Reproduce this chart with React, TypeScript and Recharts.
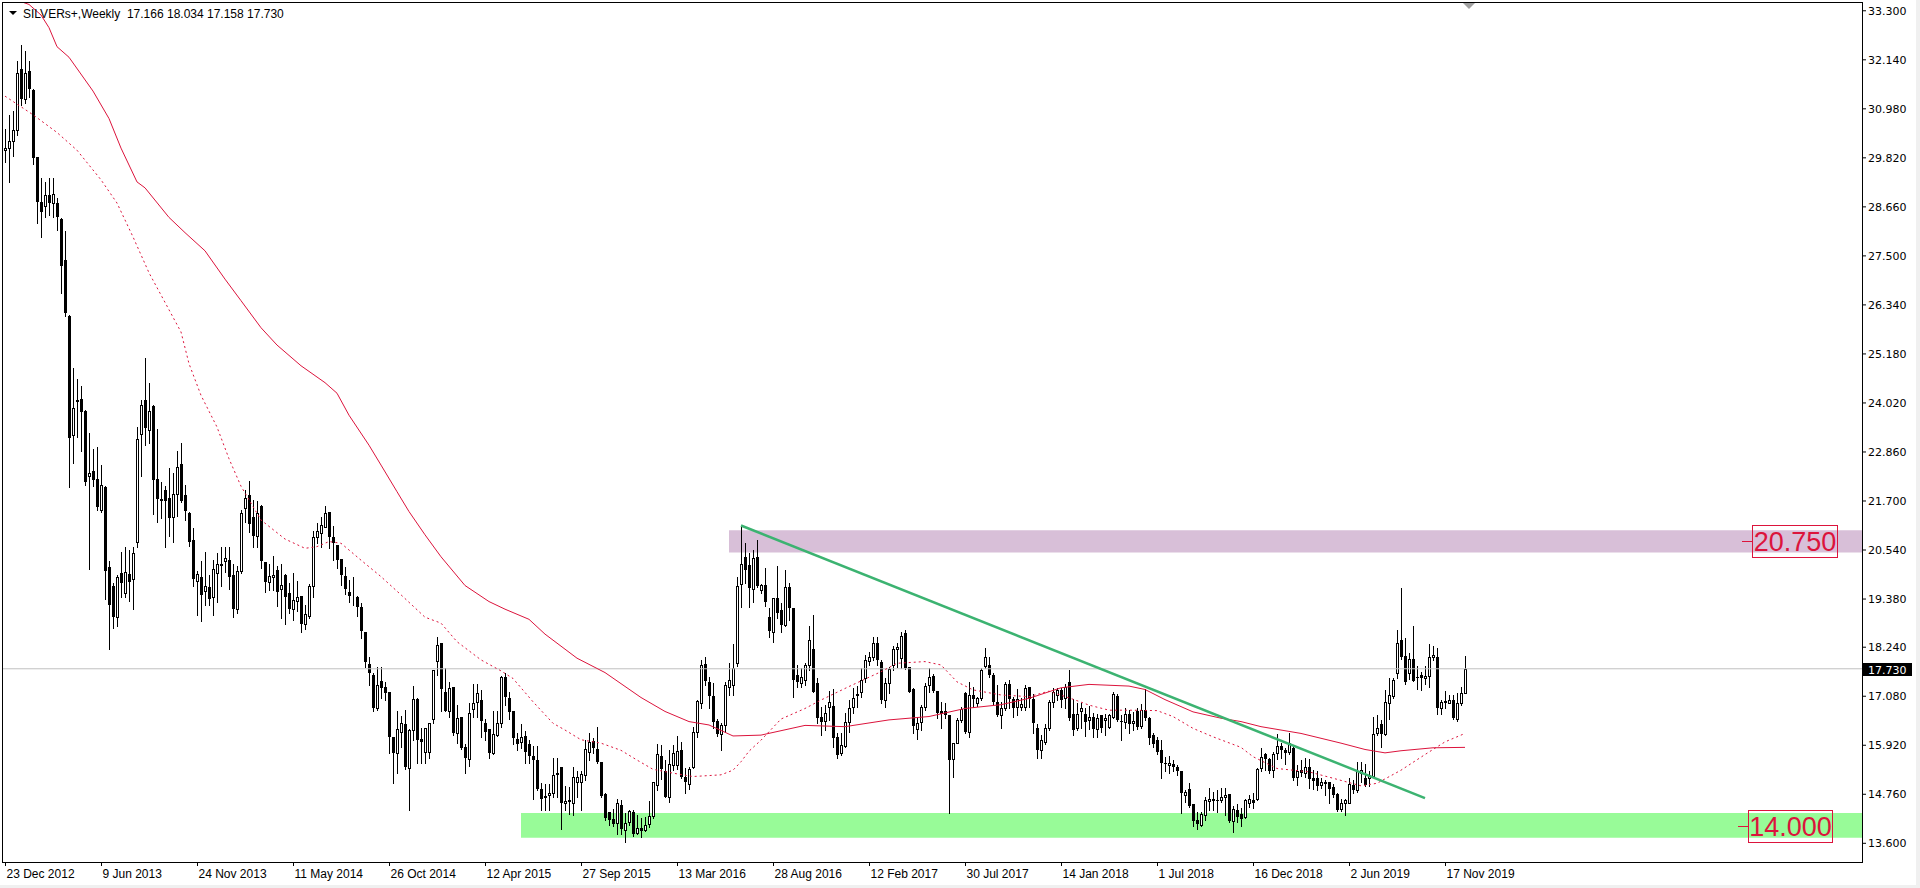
import {
  ComposedChart, Bar, Line, XAxis, YAxis,
  ReferenceLine, ReferenceArea, ReferenceDot,
} from "recharts";

const dateWeeks = [0, 24, 48, 72, 96, 120, 144, 168, 192, 216, 240, 264, 288, 312, 336, 360];
const dateLabels = [
  "23 Dec 2012", "9 Jun 2013", "24 Nov 2013", "11 May 2014", "26 Oct 2014", "12 Apr 2015",
  "27 Sep 2015", "13 Mar 2016", "28 Aug 2016", "12 Feb 2017", "30 Jul 2017", "14 Jan 2018",
  "1 Jul 2018", "16 Dec 2018", "2 Jun 2019", "17 Nov 2019",
];
const priceTicks = [
  13.6, 14.76, 15.92, 17.08, 18.24, 19.38, 20.54, 21.7, 22.86,
  24.02, 25.18, 26.34, 27.5, 28.66, 29.82, 30.98, 32.14, 33.3,
];

// weekly bars: open, high, low, close
const candles: number[][] = [
  [30.0, 30.51, 29.72, 30.05], [30.05, 30.84, 29.25, 30.23], [30.23, 30.93, 29.86, 30.47], [30.47, 32.1, 30.37, 31.82],
  [31.92, 32.48, 31.08, 31.22], [31.22, 32.34, 31.12, 31.82], [31.87, 32.1, 31.26, 31.45], [31.42, 31.45, 29.67, 29.81],
  [29.83, 29.85, 28.27, 28.77], [28.77, 29.34, 27.94, 28.55], [28.67, 29.25, 28.43, 28.94], [28.95, 29.34, 28.46, 28.74],
  [28.74, 29.34, 28.41, 28.97], [28.74, 28.88, 28.11, 28.43], [28.38, 28.4, 26.63, 27.27], [27.4, 28.08, 26.07, 26.14],
  [26.07, 26.1, 22.03, 23.19], [23.26, 24.85, 22.6, 23.9], [24.06, 24.59, 23.22, 24.09], [24.12, 24.43, 22.89, 23.8],
  [23.82, 23.85, 22.09, 22.14], [22.28, 23.31, 20.08, 22.37], [22.42, 22.94, 22.05, 22.19], [22.23, 22.98, 21.48, 21.56],
  [21.48, 22.56, 21.45, 22.07], [22.02, 22.05, 19.38, 20.05], [20.13, 20.27, 18.2, 19.24], [19.7, 19.75, 18.7, 18.95],
  [18.96, 19.95, 18.75, 19.89], [19.99, 20.5, 19.42, 19.75], [19.52, 20.6, 19.42, 20.02], [19.97, 20.55, 19.33, 19.78],
  [19.85, 20.6, 19.14, 20.47], [20.72, 23.45, 20.62, 23.17], [23.28, 24.1, 22.28, 23.98], [24.1, 25.09, 23.03, 23.43],
  [23.38, 24.5, 23.08, 23.82], [23.95, 23.97, 21.39, 22.19], [22.23, 23.4, 21.2, 21.75], [21.75, 22.14, 21.3, 21.71],
  [21.95, 22.05, 20.6, 21.69], [21.77, 22.47, 20.88, 21.3], [21.32, 22.37, 20.74, 21.86], [21.86, 22.89, 21.35, 22.51],
  [22.58, 23.08, 21.67, 21.69], [21.84, 22.09, 21.25, 21.47], [21.41, 21.44, 20.64, 20.74], [20.78, 21.06, 19.7, 19.85],
  [19.8, 20.04, 19.0, 19.97], [19.89, 20.27, 18.85, 19.47], [19.56, 20.5, 19.24, 19.68], [19.66, 19.94, 19.24, 19.38],
  [19.42, 20.31, 19.0, 20.08], [20.0, 20.46, 19.3, 20.2], [20.2, 20.6, 19.7, 20.15], [20.28, 20.6, 20.03, 20.35],
  [20.31, 20.6, 19.61, 19.89], [19.94, 20.22, 18.96, 19.14], [19.14, 20.17, 19.05, 20.05], [20.04, 21.48, 19.99, 21.41],
  // 2014
  [21.53, 21.97, 21.2, 21.78], [21.84, 22.17, 20.97, 21.15], [21.31, 21.72, 20.62, 20.86], [20.86, 21.69, 20.62, 21.42],
  [21.58, 21.6, 20.11, 20.29], [20.26, 20.26, 19.55, 19.79], [19.79, 20.22, 19.59, 19.92], [19.89, 20.4, 19.6, 19.95],
  [20.07, 20.15, 19.22, 19.55], [19.61, 20.22, 18.92, 19.71], [19.96, 19.98, 18.8, 19.44], [19.53, 19.75, 19.04, 19.14],
  [19.14, 19.99, 18.88, 19.36], [19.34, 19.81, 19.1, 19.44], [19.46, 19.46, 18.61, 18.8], [18.8, 19.23, 18.66, 19.02],
  [18.99, 19.74, 18.92, 19.69], [19.69, 21.0, 19.44, 20.84], [20.84, 21.19, 20.7, 21.0], [20.95, 21.31, 20.62, 21.13],
  [21.09, 21.58, 21.09, 21.42], [21.45, 21.45, 20.58, 20.84], [20.84, 21.11, 20.3, 20.7], [20.66, 20.66, 20.11, 20.3],
  [20.32, 20.32, 19.71, 19.95], [19.92, 20.13, 19.51, 19.61], [19.55, 19.83, 19.32, 19.45], [19.47, 19.9, 19.24, 19.47],
  [19.44, 19.46, 18.98, 19.18], [19.18, 19.29, 18.45, 18.63], [18.6, 18.6, 17.78, 17.9], [17.84, 18.0, 17.35, 17.62],
  [17.58, 17.62, 16.72, 16.79], [16.79, 17.78, 16.75, 17.35], [17.44, 17.78, 17.03, 17.27], [17.31, 17.42, 16.99, 17.16],
  [17.19, 17.19, 15.74, 16.12], [16.11, 16.11, 15.03, 15.73], [15.74, 16.74, 15.26, 16.3], [16.24, 16.61, 15.89, 16.45],
  [16.42, 16.75, 15.35, 15.41], [15.37, 16.3, 14.39, 16.28], [16.28, 17.32, 16.05, 17.01], [17.01, 17.03, 15.51, 16.04],
  [16.06, 16.32, 15.51, 16.0], [15.77, 16.32, 15.51, 16.32], [15.75, 16.44, 15.61, 16.44], [16.53, 17.7, 16.45, 17.7],
  // 2015
  [17.92, 18.47, 17.58, 18.29], [18.33, 18.33, 16.72, 17.24], [17.19, 17.74, 16.72, 16.72], [16.72, 17.42, 16.6, 17.27],
  [17.29, 17.29, 16.16, 16.22], [16.22, 16.87, 15.97, 16.56], [16.6, 16.6, 15.83, 15.85], [15.87, 15.96, 15.27, 15.61],
  [15.59, 16.91, 15.42, 16.69], [16.77, 17.37, 16.6, 16.92], [16.95, 17.37, 16.6, 17.16], [16.99, 17.23, 16.12, 16.5],
  [16.45, 16.53, 16.04, 16.24], [16.3, 16.3, 15.61, 15.73], [15.73, 16.74, 15.71, 16.19], [16.16, 16.74, 16.14, 16.45],
  [16.44, 17.56, 16.35, 17.53], [17.53, 17.62, 16.87, 17.07], [17.05, 17.19, 16.53, 16.71], [16.73, 16.73, 15.96, 16.08],
  [16.06, 16.2, 15.81, 15.95], [15.99, 16.43, 15.85, 16.11], [16.14, 16.26, 15.51, 15.77], [15.95, 16.04, 15.49, 15.67],
  [15.67, 15.9, 14.66, 15.57], [15.57, 15.9, 14.85, 14.88], [14.88, 15.02, 14.39, 14.66], [14.69, 15.0, 14.39, 14.72],
  [14.74, 15.01, 14.39, 14.79], [14.8, 15.61, 14.7, 15.22], [15.24, 15.63, 14.7, 15.27], [15.4, 15.41, 13.95, 14.56],
  [14.56, 14.96, 14.39, 14.59], [14.6, 14.94, 14.29, 14.62], [14.56, 15.41, 14.27, 15.16], [15.06, 15.3, 14.7, 15.18],
  [15.06, 15.3, 14.39, 15.24], [15.22, 16.04, 15.1, 15.82], [15.77, 16.2, 15.57, 16.0], [16.03, 16.08, 15.74, 15.85],
  [15.82, 16.36, 15.51, 15.53], [15.53, 15.53, 14.7, 14.72], [14.77, 14.79, 14.15, 14.21], [14.35, 14.35, 14.03, 14.14],
  [14.17, 14.4, 14.01, 14.06], [14.07, 14.64, 13.82, 14.55], [14.51, 14.63, 13.82, 13.93], [13.92, 14.31, 13.62, 14.07],
  [14.11, 14.39, 14.03, 14.37], [14.35, 14.39, 13.77, 13.82], [13.85, 14.27, 13.83, 13.96], [13.96, 14.21, 13.74, 13.88],
  // 2016
  [13.91, 14.22, 13.89, 14.03], [14.06, 14.59, 13.99, 14.25], [14.25, 15.04, 14.19, 15.04], [14.98, 15.96, 14.86, 15.71],
  [15.67, 15.93, 15.11, 15.35], [15.32, 15.57, 14.7, 14.7], [14.7, 15.81, 14.58, 15.48], [15.45, 15.93, 15.34, 15.73],
  [15.45, 16.14, 15.35, 15.78], [15.81, 16.0, 15.14, 15.16], [15.18, 15.37, 14.78, 15.06], [15.01, 15.41, 14.88, 15.35],
  [15.41, 16.36, 15.37, 16.24], [16.24, 17.0, 16.12, 16.97], [16.91, 17.94, 16.8, 17.82], [17.84, 18.0, 17.35, 17.45],
  [17.42, 17.54, 16.79, 17.09], [17.09, 17.39, 16.32, 16.48], [16.5, 16.53, 16.14, 16.19], [16.19, 16.45, 15.81, 16.4],
  [16.4, 17.42, 16.24, 17.35], [17.31, 17.87, 17.11, 17.46], [17.35, 18.31, 17.11, 17.74], [17.86, 19.89, 17.8, 19.69],
  [19.74, 21.12, 19.2, 20.21], [20.38, 20.7, 19.75, 20.07], [20.19, 20.46, 19.2, 19.63], [19.61, 20.54, 19.3, 20.34],
  [20.37, 20.78, 19.67, 19.69], [19.6, 19.74, 19.52, 19.71], [19.71, 20.11, 19.22, 19.32], [18.96, 19.16, 18.49, 18.63],
  [18.61, 19.4, 18.37, 19.4], [19.4, 20.15, 18.92, 19.06], [19.12, 19.28, 18.61, 18.77], [18.77, 20.07, 18.74, 19.66],
  [19.66, 19.75, 18.88, 19.16], [19.16, 19.16, 17.07, 17.47], [17.58, 17.82, 17.3, 17.42], [17.4, 17.74, 17.31, 17.53],
  [17.47, 17.86, 17.35, 17.82], [17.82, 18.74, 17.7, 18.41], [18.19, 19.0, 17.19, 17.19], [17.4, 17.5, 16.44, 16.56],
  [16.58, 16.83, 16.16, 16.48], [16.5, 16.87, 16.28, 16.68], [16.83, 17.21, 16.52, 16.95], [16.85, 17.24, 15.88, 16.08],
  // 2017
  [16.11, 16.2, 15.61, 15.69], [15.73, 16.2, 15.69, 15.93], [15.9, 16.68, 15.88, 16.48], [16.48, 16.99, 16.24, 16.79],
  [16.82, 17.27, 16.69, 17.05], [17.13, 17.32, 16.83, 17.09], [17.19, 17.74, 17.07, 17.46], [17.5, 18.06, 17.42, 17.94],
  [17.92, 18.13, 17.82, 18.0], [18.0, 18.49, 17.94, 18.33], [18.33, 18.49, 17.82, 17.94], [17.9, 17.94, 16.93, 16.98],
  [16.98, 17.5, 16.82, 17.39], [17.39, 17.76, 17.15, 17.72], [17.82, 18.27, 17.7, 18.19], [18.19, 18.35, 17.76, 18.25],
  [17.98, 18.61, 17.74, 18.51], [18.57, 18.65, 17.72, 17.74], [17.76, 17.78, 17.19, 17.19], [17.24, 17.27, 16.2, 16.38],
  [16.3, 16.58, 16.06, 16.45], [16.48, 16.87, 16.28, 16.83], [16.83, 17.4, 16.75, 17.32], [17.35, 17.74, 17.17, 17.54],
  [17.56, 17.61, 17.19, 17.21], [17.21, 17.21, 16.56, 16.68], [16.72, 16.95, 16.34, 16.66], [16.74, 16.91, 16.56, 16.63],
  [16.64, 16.64, 14.31, 15.57], [15.59, 15.98, 15.17, 15.97], [15.98, 16.56, 15.97, 16.52], [16.52, 16.83, 16.48, 16.77],
  [17.15, 17.19, 16.22, 16.24], [16.24, 17.42, 16.11, 17.11], [17.11, 17.31, 16.83, 17.01], [16.91, 17.07, 16.85, 17.03],
  [17.05, 17.74, 16.99, 17.7], [17.79, 18.21, 17.74, 18.02], [17.82, 18.02, 17.54, 17.58], [17.58, 17.62, 16.87, 16.95],
  [16.95, 17.35, 16.61, 16.64], [16.64, 16.95, 16.32, 16.8], [16.8, 17.42, 16.75, 17.38], [17.38, 17.46, 16.8, 17.01],
  [17.01, 17.07, 16.58, 16.8], [16.82, 17.24, 16.63, 17.01], [16.83, 17.03, 16.75, 16.9], [16.83, 17.35, 16.75, 17.27],
  [17.29, 17.31, 16.83, 17.01], [17.01, 17.13, 16.22, 16.44], [16.32, 16.42, 15.63, 15.81], [15.81, 16.17, 15.61, 16.05],
  // 2018
  [16.0, 16.42, 15.96, 16.32], [16.32, 16.99, 16.28, 16.95], [16.95, 17.27, 16.83, 17.19], [17.11, 17.27, 16.99, 17.23],
  [17.23, 17.27, 16.83, 16.99], [17.03, 17.38, 16.79, 17.29], [17.42, 17.7, 16.52, 16.56], [16.67, 17.01, 16.16, 16.28],
  [16.32, 16.93, 16.27, 16.67], [16.72, 16.91, 16.32, 16.8], [16.67, 16.79, 16.14, 16.48], [16.52, 16.85, 16.3, 16.6],
  [16.6, 16.68, 16.12, 16.3], [16.3, 16.66, 16.11, 16.56], [16.64, 16.64, 16.24, 16.34], [16.52, 16.67, 16.16, 16.56],
  [16.36, 16.67, 16.32, 16.64], [16.6, 17.19, 16.56, 17.13], [17.08, 17.13, 16.5, 16.52], [16.5, 16.63, 16.04, 16.46],
  [16.48, 16.8, 16.32, 16.66], [16.66, 16.75, 16.2, 16.42], [16.44, 16.71, 16.28, 16.5], [16.72, 16.8, 16.3, 16.36],
  [16.38, 16.9, 16.34, 16.75], [16.75, 17.24, 16.52, 16.56], [16.56, 16.6, 15.96, 16.08], [16.16, 16.22, 15.89, 15.96],
  [16.04, 16.12, 15.71, 15.77], [15.81, 16.04, 15.14, 15.49], [15.49, 15.65, 15.3, 15.48], [15.45, 15.67, 15.26, 15.49],
  [15.48, 15.57, 15.3, 15.4], [15.4, 15.45, 15.22, 15.3], [15.32, 15.32, 14.31, 14.8], [14.74, 14.86, 14.58, 14.82],
  [14.88, 15.02, 14.47, 14.48], [14.53, 14.53, 14.01, 14.13], [14.15, 14.35, 13.95, 14.06], [14.04, 14.34, 14.01, 14.29],
  [14.27, 14.69, 14.15, 14.62], [14.61, 14.9, 14.39, 14.66], [14.64, 14.82, 14.39, 14.59], [14.62, 14.86, 14.35, 14.59],
  [14.62, 14.9, 14.58, 14.7], [14.69, 14.9, 14.27, 14.74], [14.76, 14.76, 14.11, 14.13], [14.13, 14.48, 13.87, 14.4],
  [14.39, 14.54, 14.11, 14.23], [14.29, 14.43, 14.01, 14.17], [14.23, 14.64, 14.21, 14.62], [14.56, 14.74, 14.47, 14.64],
  // 2019
  [14.62, 14.78, 14.43, 14.56], [14.66, 15.37, 14.62, 15.35], [15.37, 15.85, 15.32, 15.65], [15.71, 15.74, 15.33, 15.59],
  [15.59, 15.63, 15.26, 15.3], [15.33, 15.77, 15.16, 15.71], [15.73, 16.19, 15.59, 15.9], [15.9, 15.98, 15.63, 15.81],
  [15.81, 15.85, 15.48, 15.74], [15.77, 16.2, 15.71, 15.98], [15.85, 15.9, 15.1, 15.14], [15.16, 15.45, 14.98, 15.32],
  [15.33, 15.57, 15.19, 15.27], [15.27, 15.61, 15.18, 15.4], [15.41, 15.59, 14.9, 15.11], [15.14, 15.33, 14.88, 15.08],
  [15.14, 15.32, 14.86, 14.96], [14.98, 15.14, 14.9, 15.06], [15.02, 15.1, 14.74, 15.06], [15.06, 15.06, 14.56, 14.88],
  [14.94, 15.0, 14.69, 14.74], [14.77, 14.79, 14.37, 14.39], [14.4, 14.66, 14.37, 14.55], [14.56, 14.66, 14.27, 14.62],
  [14.56, 15.14, 14.56, 15.0], [14.98, 15.1, 14.8, 14.85], [14.85, 15.53, 14.82, 15.32], [15.26, 15.53, 15.06, 15.33],
  [15.14, 15.48, 14.96, 14.98], [15.14, 15.32, 14.96, 15.22], [15.19, 16.6, 15.17, 16.19], [16.2, 16.64, 16.16, 16.32],
  [16.42, 16.52, 15.89, 16.19], [16.19, 17.23, 16.16, 16.95], [16.93, 17.5, 16.53, 17.11], [17.09, 17.5, 17.05, 17.46],
  [17.62, 18.65, 17.5, 18.33], [18.41, 19.63, 17.95, 18.02], [18.03, 18.45, 17.38, 17.42], [17.62, 18.1, 17.48, 17.95],
  [17.95, 18.74, 17.43, 17.45], [17.54, 17.79, 17.24, 17.53], [17.58, 17.66, 17.23, 17.5], [17.5, 17.79, 17.37, 17.56],
  [17.56, 18.32, 17.3, 18.0], [18.0, 18.27, 17.94, 18.06], [18.02, 18.21, 16.66, 16.79], [16.79, 16.99, 16.66, 16.95],
  [16.95, 17.21, 16.79, 16.97], [16.93, 17.11, 16.91, 17.0], [16.99, 17.11, 16.55, 16.56], [16.53, 17.16, 16.5, 16.93],
  [16.93, 17.3, 16.87, 17.15], [17.166, 18.034, 17.158, 17.73],
];

// moving averages: [week, value]
const slowMa: number[][] = [
  [0, 33.8], [3, 33.55], [6, 33.45], [9, 33.2], [11, 32.9], [13, 32.45], [16, 32.2], [22, 31.4], [26, 30.75],
  [29, 30.05], [33, 29.25], [35, 29.11], [41, 28.41], [45, 28.05], [50, 27.62], [55, 26.95], [59, 26.44],
  [64, 25.8], [68, 25.39], [74, 24.9], [80, 24.5], [83, 24.25], [86, 23.73], [91, 23.02], [94, 22.55],
  [98, 21.92], [101, 21.45], [105, 20.9], [109, 20.38], [115, 19.7], [121, 19.32], [125, 19.14], [131, 18.9],
  [135, 18.55], [143, 17.98], [150, 17.64], [159, 17.05], [165, 16.72], [171, 16.48], [176, 16.4], [182, 16.14],
  [189, 16.16], [200, 16.39], [210, 16.36], [221, 16.52], [231, 16.6], [240, 16.79], [249, 16.88], [256, 17.03],
  [264, 17.28], [271, 17.36], [281, 17.32], [285, 17.24], [290, 17.0], [297, 16.71], [304, 16.56], [309, 16.48],
  [314, 16.36], [324, 16.2], [334, 15.97], [340, 15.82], [345, 15.74], [349, 15.79], [357, 15.86], [365, 15.87],
];
const fastMa: number[][] = [
  [0, 31.28], [7, 30.84], [13, 30.42], [18, 30.0], [24, 29.3], [28, 28.75], [32, 27.95], [36, 27.1], [40, 26.4],
  [44, 25.7], [46, 24.95], [49, 24.2], [53, 23.45], [56, 22.7], [59, 22.05], [64, 21.25], [70, 20.8], [75, 20.58],
  [78, 20.62], [81, 20.74], [84, 20.7], [89, 20.3], [94, 19.91], [99, 19.48], [105, 18.95], [109, 18.81],
  [113, 18.37], [119, 17.94], [124, 17.68], [127, 17.5], [132, 16.95], [137, 16.44], [140, 16.28], [144, 16.05],
  [149, 15.97], [154, 15.8], [158, 15.57], [162, 15.35], [167, 15.26], [172, 15.18], [179, 15.22], [182, 15.33],
  [184, 15.53], [186, 15.78], [189, 16.04], [194, 16.54], [200, 16.79], [204, 16.99], [211, 17.31], [219, 17.66],
  [223, 17.86], [230, 17.9], [234, 17.82], [238, 17.42], [242, 17.23], [249, 17.11], [256, 17.07], [261, 17.2],
  [267, 17.01], [271, 16.87], [276, 16.75], [281, 16.75], [288, 16.74], [292, 16.6], [297, 16.32], [302, 16.12],
  [309, 15.87], [312, 15.65], [318, 15.37], [326, 15.29], [332, 15.14], [339, 14.96], [343, 15.02], [349, 15.33],
  [355, 15.7], [360, 16.0], [365, 16.2],
];

const lastPrice = 17.73;
const resistance = { level: 20.75, from: 181, low: 20.48, high: 21.01 };
const support = { level: 14.0, from: 129, low: 13.733, high: 14.317 };
const trend = [[184, 21.12], [355, 14.67]];

const data = candles.map(([o, h, l, c], week) => ({ week, o, h, l, c, range: [l, h] }));
const slowData = slowMa.map(([week, v]) => ({ week, v }));
const fastData = fastMa.map(([week, v]) => ({ week, v }));

const RED = "#dc143c";
const X_MAX = 464.25;

function Candle(props: any) {
  const { x, y, width, height, payload } = props;
  if (x == null || !payload) return null;
  const { o, h, l, c } = payload;
  const top = Math.min(y, y + height);
  const span = Math.abs(height);
  const toY = (v: number) => (h === l ? top : top + ((h - v) / (h - l)) * span);
  const px = Math.round(x + width / 2 + 0.25);
  const yTop = Math.round(top);
  const yBot = Math.round(top + span);
  const bTop = Math.round(toY(Math.max(o, c)));
  const bBot = Math.round(toY(Math.min(o, c)));
  const up = c >= o;
  return (
    <g>
      <line x1={px + 0.5} x2={px + 0.5} y1={yTop} y2={yBot + 1} stroke="#000" strokeWidth={1} />
      {up ? (
        <rect x={px - 0.5} y={bTop + 0.5} width={2} height={Math.max(bBot - bTop, 0)} fill="#fff" stroke="#000" strokeWidth={1} />
      ) : (
        <rect x={px - 1} y={bTop} width={3} height={Math.max(bBot - bTop, 1)} fill="#000" />
      )}
    </g>
  );
}

function DateTick(props: any) {
  const { x, y, payload } = props;
  const i = dateWeeks.indexOf(payload.value);
  const px = Math.round(x) + 0.5;
  return (
    <g>
      <line x1={px} x2={px} y1={y} y2={y + 4} stroke="#000" />
      <text x={px + 1} y={y + 16} fontSize={12} fontFamily="'Liberation Sans', Arial, sans-serif" fill="#000">
        {i >= 0 ? dateLabels[i] : ""}
      </text>
    </g>
  );
}

function PriceBox(props: any) {
  const { cx, cy, text, w } = props;
  return (
    <g>
      <line x1={cx - 10} x2={cx} y1={Math.round(cy) + 0.5} y2={Math.round(cy) + 0.5} stroke={RED} strokeWidth={1} />
      <rect x={cx + 0.5} y={Math.round(cy) - 15.5} width={w} height={32} fill="none" stroke={RED} strokeWidth={1} />
      <text x={cx + w / 2 + 0.5} y={Math.round(cy) + 10} textAnchor="middle" fontSize={27}
        fontFamily="'Liberation Sans', Arial, sans-serif" fill={RED}>{text}</text>
    </g>
  );
}

function LastPriceTag(props: any) {
  const { cx, cy } = props;
  const y0 = Math.round(cy) - 6;
  return (
    <g>
      <rect x={cx + 1} y={y0} width={49} height={13} fill="#000" />
      <text x={cx + 6} y={y0 + 10.5} fontSize={11} fontFamily="'DejaVu Sans', sans-serif" fill="#fff">
        {lastPrice.toFixed(3)}
      </text>
    </g>
  );
}

export default function App() {
  return (
    <div style={{ position: "absolute", left: 0, top: 0, width: 1920, height: 888, background: "#f0f0f0", overflow: "hidden" }}>
      <div style={{ position: "absolute", left: 0, top: 0, width: 1916, height: 885, background: "#fff" }} />
      <div style={{
        position: "absolute", left: 2, top: 2, width: 1861, height: 861,
        border: "1px solid #000", boxSizing: "border-box",
      }} />
      <div style={{ position: "absolute", left: 0, top: 0 }}>
        <ComposedChart width={1920} height={888} data={data} margin={{ top: 3, right: 0, bottom: 0, left: 3 }}>
          <XAxis
            dataKey="week"
            type="number"
            domain={[-0.5, X_MAX]}
            allowDataOverflow
            ticks={dateWeeks}
            interval={0}
            height={26}
            axisLine={false}
            tickLine={false}
            tickSize={0}
            tickMargin={0}
            tick={<DateTick />}
          />
          <YAxis
            orientation="right"
            type="number"
            domain={[13.1575, 33.484]}
            allowDataOverflow
            ticks={priceTicks}
            interval={0}
            width={58}
            axisLine={false}
            tickLine={{ stroke: "#000" }}
            tickSize={4}
            tickMargin={2}
            tickFormatter={(v: number) => v.toFixed(3)}
            tick={{ fill: "#000", fontSize: 11, fontFamily: "'DejaVu Sans', sans-serif" }}
          />
          <ReferenceArea x1={resistance.from} x2={X_MAX} y1={resistance.low} y2={resistance.high}
            fill="#d8bfd8" fillOpacity={1} stroke="none" ifOverflow="hidden" />
          <ReferenceArea x1={support.from} x2={X_MAX} y1={support.low} y2={support.high}
            fill="#98fb98" fillOpacity={1} stroke="none" ifOverflow="hidden" />
          <ReferenceLine y={lastPrice} stroke="#c0c0c0" strokeWidth={1} ifOverflow="hidden" />
          <Line data={slowData} dataKey="v" type="linear" stroke={RED} strokeWidth={1} dot={false}
            activeDot={false} isAnimationActive={false} />
          <Line data={fastData} dataKey="v" type="linear" stroke={RED} strokeWidth={1} strokeDasharray="2 3"
            dot={false} activeDot={false} isAnimationActive={false} />
          <Bar dataKey="range" barSize={3} isAnimationActive={false}
            shape={(p: any) => <Candle {...p} />} />
          <ReferenceLine
            segment={[{ x: trend[0][0], y: trend[0][1] }, { x: trend[1][0], y: trend[1][1] }]}
            stroke="#3cb371" strokeWidth={2.5} ifOverflow="hidden"
          />
          <ReferenceDot x={436.75} y={resistance.level} r={0} ifOverflow="visible"
            shape={(p: any) => <PriceBox {...p} text={resistance.level.toFixed(3)} w={85} />} />
          <ReferenceDot x={435.75} y={support.level} r={0} ifOverflow="visible"
            shape={(p: any) => <PriceBox {...p} text={support.level.toFixed(3)} w={84} />} />
          <ReferenceDot x={X_MAX} y={lastPrice} r={0} ifOverflow="visible"
            shape={(p: any) => <LastPriceTag {...p} />} />
        </ComposedChart>
      </div>
      <svg width={1920} height={888} style={{ position: "absolute", left: 0, top: 0, pointerEvents: "none" }}>
        <polygon points="9,11 17,11 13,15" fill="#000" />
        <text x={23} y={18} fontSize={12} fontFamily="'Liberation Sans', Arial, sans-serif" fill="#000" xmlSpace="preserve">
          SILVERs+,Weekly  17.166 18.034 17.158 17.730
        </text>
        <polygon points="1463,3 1475,3 1469,9" fill="#a0a0a0" />
      </svg>
    </div>
  );
}
